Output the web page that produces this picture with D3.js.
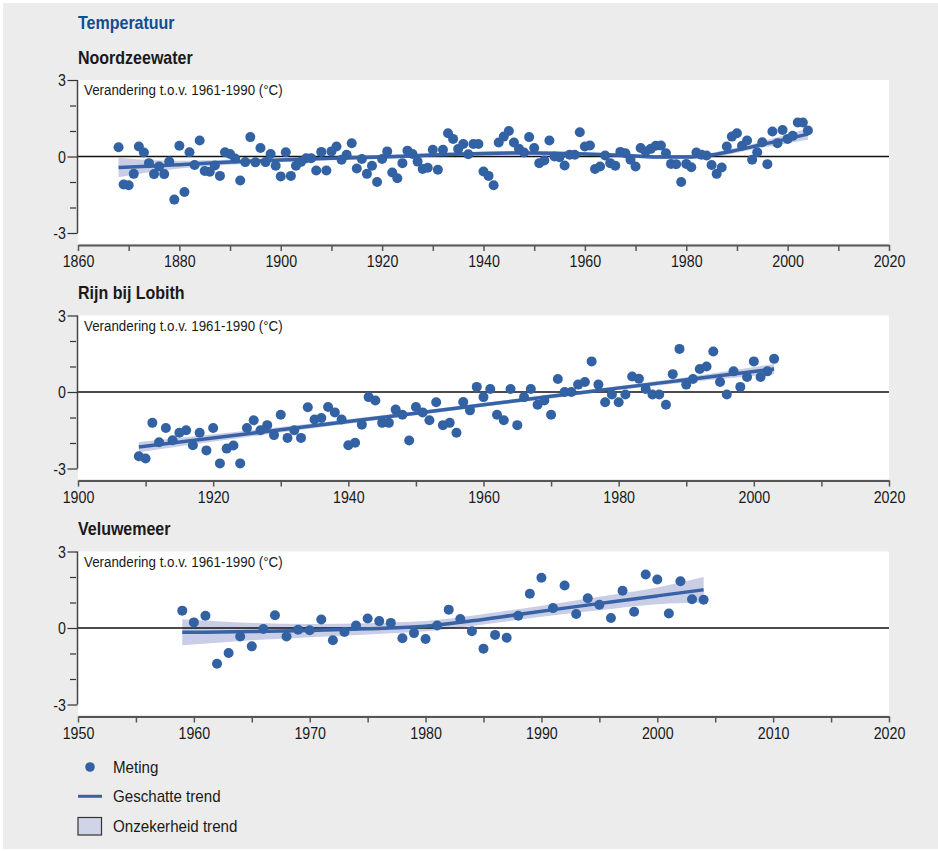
<!DOCTYPE html>
<html><head><meta charset="utf-8">
<script src="https://cdn.jsdelivr.net/npm/d3@7"></script>
<style>
html,body{margin:0;padding:0;background:#fff;}
svg{display:block;font-family:"Liberation Sans",Arial,sans-serif;}
</style></head>
<body>
<svg id="chart" width="938" height="851"></svg>
<script>
// ---------- DATA ----------
const titleMain = "Temperatuur";
const panelTitles = ["Noordzeewater", "Rijn bij Lobith", "Veluwemeer"];
const yLabel = "Verandering t.o.v. 1961-1990 (°C)";
const legendLabels = ["Meting", "Geschatte trend", "Onzekerheid trend"];

// Noordzeewater: yearly measurements 1868-2004
const nzStart = 1868;
const nzValues = [0.36,-1.1,-1.13,-0.68,0.39,0.16,-0.26,-0.69,-0.39,-0.69,-0.2,-1.69,0.42,-1.39,0.17,-0.33,0.63,-0.57,-0.6,-0.35,
-0.76,0.17,0.1,-0.08,-0.94,-0.22,0.76,-0.23,0.33,-0.22,0.1,-0.36,-0.78,0.17,-0.76,-0.36,-0.21,-0.07,-0.07,-0.55,
0.18,-0.55,0.2,0.39,-0.13,0.07,0.52,-0.47,-0.1,-0.68,-0.36,-1.0,-0.1,0.2,-0.63,-0.85,-0.26,0.23,0.1,-0.2,
-0.49,-0.44,0.26,-0.52,0.26,0.91,0.69,0.29,0.49,0.09,0.49,0.49,-0.59,-0.76,-1.13,0.55,0.78,1.0,0.55,0.3,
0.16,0.76,0.33,-0.26,-0.16,0.63,0.0,-0.03,-0.35,0.07,0.07,0.95,0.39,0.43,-0.49,-0.39,0.04,-0.26,-0.36,0.18,
0.13,-0.13,-0.39,0.33,0.2,0.3,0.42,0.43,0.13,-0.29,-0.3,-1.0,-0.29,-0.42,0.16,0.07,0.04,-0.33,-0.68,-0.43,
0.39,0.78,0.91,0.42,0.63,-0.13,0.17,0.56,-0.3,0.98,0.52,1.04,0.69,0.81,1.33,1.33,1.02];
const nzTrendYears = [1868,1875,1880,1890,1900,1910,1920,1930,1940,1950,1960,1970,1975,1980,1985,1990,1995,2000,2004];
const nzTrend      = [-0.43,-0.37,-0.32,-0.22,-0.14,-0.07,-0.02,0.06,0.12,0.14,0.1,0.02,-0.02,-0.02,0.06,0.25,0.47,0.69,0.88];
const nzLow        = [-0.81,-0.59,-0.47,-0.32,-0.22,-0.15,-0.1,-0.02,0.04,0.06,0.02,-0.06,-0.1,-0.1,-0.03,0.15,0.35,0.52,0.66];
const nzHigh       = [-0.05,-0.15,-0.17,-0.12,-0.06,0.01,0.06,0.14,0.2,0.22,0.18,0.1,0.06,0.06,0.15,0.35,0.59,0.86,1.1];

// Rijn bij Lobith: yearly measurements 1909-2003
const rlStart = 1909;
const rlValues = [-2.52,-2.61,-1.21,-1.97,-1.41,-1.89,-1.6,-1.5,-2.09,-1.6,-2.29,-1.41,-2.8,-2.22,-2.1,-2.8,-1.41,-1.11,-1.5,-1.3,
-1.69,-0.89,-1.8,-1.5,-1.8,-0.6,-1.08,-1.02,-0.59,-0.8,-1.08,-2.09,-1.99,-1.28,-0.2,-0.33,-1.21,-1.21,-0.69,-0.89,
-1.9,-0.59,-0.8,-1.11,-0.4,-1.3,-1.21,-1.6,-0.39,-0.72,0.2,-0.2,0.12,-0.89,-1.11,0.12,-1.3,-0.2,0.12,-0.5,
-0.33,-0.89,0.51,0.0,0.0,0.29,0.39,1.2,0.29,-0.4,-0.1,-0.4,-0.1,0.61,0.52,0.12,-0.1,-0.1,-0.5,0.7,
1.69,0.29,0.51,0.9,1.0,1.59,0.39,-0.1,0.81,0.2,0.59,1.2,0.59,0.81,1.3];
const rlTrendYears = [1909,1930,1950,1970,1990,2003];
const rlTrend      = [-2.16,-1.48,-0.83,-0.17,0.48,0.9];
const rlLow        = [-2.36,-1.59,-0.91,-0.25,0.38,0.7];
const rlHigh       = [-1.96,-1.37,-0.75,-0.09,0.58,1.1];

// Veluwemeer: yearly measurements 1959-2004
const vmStart = 1959;
const vmValues = [0.68,0.22,0.48,-1.4,-0.98,-0.33,-0.72,-0.04,0.5,-0.33,-0.07,-0.09,0.33,-0.48,-0.16,0.1,0.37,0.27,0.2,-0.4,
-0.2,-0.43,0.1,0.72,0.35,-0.13,-0.81,-0.27,-0.38,0.48,1.34,1.97,0.78,1.67,0.55,1.17,0.91,0.39,1.46,0.64,
2.1,1.9,0.57,1.83,1.13,1.11];
const vmTrendYears = [1959,1965,1970,1975,1980,1984,1988,1992,1996,2000,2004];
const vmTrend      = [-0.17,-0.14,-0.1,-0.03,0.07,0.28,0.53,0.78,1.02,1.26,1.5];
const vmLow        = [-0.68,-0.48,-0.36,-0.25,-0.13,0.08,0.32,0.55,0.75,0.93,1.0];
const vmHigh       = [0.34,0.2,0.16,0.19,0.27,0.48,0.74,1.01,1.29,1.59,2.0];

const xDomains = [[1860,2020],[1900,2020],[1950,2020]];
const xTickSteps = [10,10,5];
const xLabelSteps = [20,20,10];
const yTicksMajor = [-3,0,3];
const yTicksMinor = [-2,-1,1,2];

// ---------- STYLE ----------
const SX = 0.89;            // horizontal text compression
const dotColor = "#3262a3";
const lineColor = "#3762a6";
const bandColor = "#c9cde6";
const bgColor = "#ececec";
const titleBlue = "#134d91";

const svg = d3.select("#chart");
svg.append("rect").attr("x",3).attr("y",3).attr("width",935).attr("height",846).attr("fill",bgColor);

function stext(g, x, y, str, size, opts={}) {
  return g.append("text")
    .attr("transform", `translate(${x},${y}) scale(${SX},1)`)
    .attr("font-size", size)
    .attr("fill", opts.fill || "#1a1a1a")
    .attr("font-weight", opts.bold ? "bold" : null)
    .attr("text-anchor", opts.anchor || "start")
    .text(str);
}

stext(svg, 78, 28.5, titleMain, 18, {bold:true, fill:titleBlue});

const panels = [
  {title: panelTitles[0], start: nzStart, values: nzValues, ty: nzTrendYears, tr: nzTrend, lo: nzLow, hi: nzHigh, top: 80},
  {title: panelTitles[1], start: rlStart, values: rlValues, ty: rlTrendYears, tr: rlTrend, lo: rlLow, hi: rlHigh, top: 315.5},
  {title: panelTitles[2], start: vmStart, values: vmValues, ty: vmTrendYears, tr: vmTrend, lo: vmLow, hi: vmHigh, top: 551.5}
];

const left = 78, right = 889, plotH = 153;

panels.forEach((p, i) => {
  const g = svg.append("g");
  const x = d3.scaleLinear().domain(xDomains[i]).range([left, right]);
  const y = d3.scaleLinear().domain([-3, 3]).range([p.top + plotH, p.top]);
  const axisY = p.top + plotH + 12;

  stext(g, 78, p.top - 16.5, p.title, 18, {bold:true});

  g.append("rect").attr("x", left).attr("y", p.top).attr("width", right-left).attr("height", axisY - 1.5 - p.top).attr("fill", "#fff");

  const pts = p.values.map((v, k) => ({year: p.start + k, v}));
  const tr = p.ty.map((yr, k) => ({year: yr, v: p.tr[k], lo: p.lo[k], hi: p.hi[k]}));

  // band
  g.append("path").datum(tr)
    .attr("d", d3.area().x(d => x(d.year)).y0(d => y(d.lo)).y1(d => y(d.hi)).curve(d3.curveMonotoneX))
    .attr("fill", bandColor);

  // zero line
  g.append("line").attr("x1", left).attr("x2", right).attr("y1", y(0)).attr("y2", y(0))
    .attr("stroke", "#111").attr("stroke-width", 1.5);

  // trend line
  g.append("path").datum(tr)
    .attr("d", d3.line().x(d => x(d.year)).y(d => y(d.v)).curve(d3.curveMonotoneX))
    .attr("fill", "none").attr("stroke", lineColor).attr("stroke-width", 3.5);

  // points
  g.selectAll("circle.pt").data(pts).join("circle").attr("class","pt")
    .attr("cx", d => x(d.year)).attr("cy", d => y(d.v)).attr("r", 5)
    .attr("fill", dotColor);

  // y axis (major)
  const yAx = g.append("g").attr("transform", `translate(${left - 0.5},0)`)
    .call(d3.axisLeft(y).tickValues(yTicksMajor).tickSize(10).tickFormat(d => String(d)));
  yAx.select(".domain").attr("stroke", "#444").attr("stroke-width", 1.5).attr("d", `M0,${y(3)}V${y(-3)}`);
  yAx.selectAll(".tick line").attr("stroke", "#333").attr("stroke-width", 1.2);
  yAx.selectAll(".tick text").attr("font-size", 16).attr("font-family", null).attr("fill", "#1a1a1a")
    .attr("x", -13).attr("dy", "0.35em").attr("transform", `scale(${SX},1)`);

  // y axis (minor)
  const yAx2 = g.append("g").attr("transform", `translate(${left - 2},0)`)
    .call(d3.axisLeft(y).tickValues(yTicksMinor).tickSize(6).tickFormat(""));
  yAx2.select(".domain").remove();
  yAx2.selectAll(".tick line").attr("stroke", "#333").attr("stroke-width", 1.2);

  // x axis
  const xAx = g.append("g").attr("transform", `translate(0,${axisY})`)
    .call(d3.axisBottom(x)
      .tickValues(d3.range(xDomains[i][0], xDomains[i][1] + 1, xTickSteps[i]))
      .tickSize(6).tickSizeOuter(0)
      .tickFormat(d => ((d - xDomains[i][0]) % xLabelSteps[i] === 0 ? String(d) : "")));
  xAx.select(".domain").attr("stroke", "#555").attr("stroke-width", 2);
  xAx.selectAll(".tick line").attr("stroke", "#555").attr("stroke-width", 1.5);
  xAx.selectAll(".tick text").attr("font-size", 16).attr("font-family", null).attr("fill", "#1a1a1a")
    .attr("y", 22.5).attr("dy", null).attr("transform", `scale(${SX},1)`);

  // annotation
  stext(g, 84, p.top + 15, yLabel, 15);
});

// ---------- LEGEND ----------
const lg = svg.append("g");
lg.append("circle").attr("cx", 90).attr("cy", 767).attr("r", 4.8).attr("fill", dotColor);
stext(lg, 113, 773, legendLabels[0], 17);
lg.append("line").attr("x1", 78).attr("x2", 102).attr("y1", 796.3).attr("y2", 796.3).attr("stroke", lineColor).attr("stroke-width", 3);
stext(lg, 113, 802, legendLabels[1], 17);
lg.append("rect").attr("x", 78).attr("y", 817.5).attr("width", 23.5).attr("height", 17.5)
  .attr("fill", "#d0d4e9").attr("stroke", "#333").attr("stroke-width", 1.2);
stext(lg, 113, 831.5, legendLabels[2], 17);
</script>
</body></html>
